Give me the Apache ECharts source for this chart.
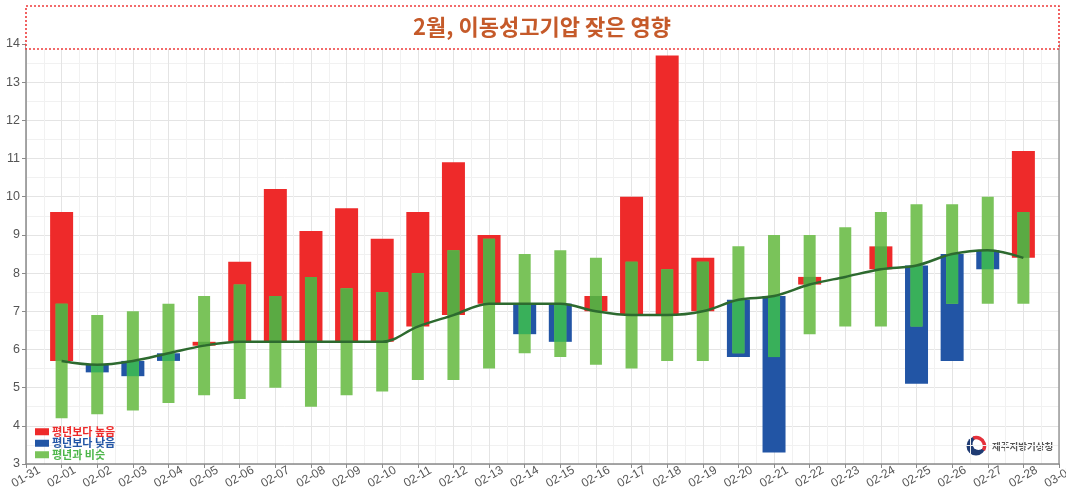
<!DOCTYPE html>
<html><head><meta charset="utf-8">
<script src="https://cdn.jsdelivr.net/npm/echarts@6/dist/echarts.min.js"></script>
<style>html,body{margin:0;padding:0;background:#fff}#c{width:1066px;height:489px}</style>
</head><body><div id="c"></div>
<script>
// x tick labels (01-31 .. 03-01)
const tickLabels = ['01-31','02-01','02-02','02-03','02-04','02-05','02-06','02-07','02-08','02-09','02-10',
  '02-11','02-12','02-13','02-14','02-15','02-16','02-17','02-18','02-19','02-20',
  '02-21','02-22','02-23','02-24','02-25','02-26','02-27','02-28','03-01'];
// days with data: 02-01 .. 02-28
const days = tickLabels.slice(1, 29);
// observed daily mean temperature (°C)
const observed   = [9.6,5.4,5.3,5.7,6.2,8.3,10.2,9.1,9.7,8.9,9.6,10.9,9.0,6.4,6.2,7.4,10.0,13.7,8.4,5.8,3.3,7.9,7.9,8.7,5.1,5.7,8.1,11.2];
// normal (climatological) mean
const normalMean = [5.7,5.6,5.7,5.9,6.1,6.2,6.2,6.2,6.2,6.2,6.6,6.9,7.2,7.2,7.2,7.0,6.9,6.9,7.0,7.3,7.4,7.7,7.9,8.1,8.2,8.5,8.6,8.4];
// normal range (similar to normal)
const normalLow  = [4.2,4.3,4.4,4.6,4.8,4.7,5.0,4.5,4.8,4.9,5.2,5.2,5.5,5.9,5.8,5.6,5.5,5.7,5.7,5.9,5.8,6.4,6.6,6.6,6.6,7.2,7.2,7.2];
const normalHigh = [7.2,6.9,7.0,7.2,7.4,7.7,7.4,7.9,7.6,7.5,8.0,8.6,8.9,8.5,8.6,8.4,8.3,8.1,8.3,8.7,9.0,9.0,9.2,9.6,9.8,9.8,10.0,9.6];
const yTicks = [3,4,5,6,7,8,9,10,11,12,13,14];

const RED = '#ee2a2a', BLUE = '#2255a5', GREEN = '#7ac35a', GREEN_ON_RED = '#5aaa43', GREEN_ON_BLUE = '#39b05a', LINE = '#2d6a2f';
const WIDE = 23, NARROW = 12;
const KR = "'Noto Sans CJK KR', sans-serif";

function diffBar(color, up) {
  return function (params, api) {
    const x = api.value(0), m = api.value(1), o = api.value(2);
    if (up ? !(o > m) : !(o < m)) return null;
    const lo = Math.min(m, o), hi = Math.max(m, o);
    const p1 = api.coord([x, hi]), p2 = api.coord([x, lo]);
    return { type: 'rect', shape: { x: p1[0] - WIDE / 2, y: p1[1], width: WIDE, height: p2[1] - p1[1] },
             style: { fill: color } };
  };
}

const chart = echarts.init(document.getElementById('c'));
chart.setOption({
  animation: false,
  grid: { left: 26, right: 7, top: 44, bottom: 25, containLabel: false, outerBoundsMode: 'none' },
  legend: {
    orient: 'vertical', left: 35, top: 426, itemGap: 0, itemWidth: 14, itemHeight: 7, icon: 'rect',
    padding: 0,
    textStyle: { fontFamily: KR, fontWeight: 'bold', fontSize: 11, lineHeight: 11.5, padding: [0, 0, 0, -2] },
    data: [
      { name: '평년보다 높음', textStyle: { color: RED } },
      { name: '평년보다 낮음', textStyle: { color: BLUE } },
      { name: '평년과 비슷', textStyle: { color: '#4db64a' } }
    ]
  },
  xAxis: {
    type: 'value', min: 0, max: tickLabels.length - 1, interval: 1,
    axisLine: { show: true, lineStyle: { color: '#8a8a8a', width: 1.5 } },
    axisTick: { show: true, length: 4, lineStyle: { color: '#8a8a8a' } },
    axisLabel: { formatter: v => tickLabels[v] || '', rotate: 30, align: 'center', verticalAlign: 'middle',
      margin: 13, color: '#555', fontSize: 12, fontFamily: "'Liberation Sans', Arial, sans-serif", showMaxLabel: true, showMinLabel: true },
    splitLine: { show: true, lineStyle: { color: '#e4e4e4', width: 1 } },
    minorTick: { show: false, splitNumber: 2 },
    minorSplitLine: { show: true, lineStyle: { color: '#f1f1f1', width: 1 } }
  },
  yAxis: [{
    type: 'value', min: yTicks[0], max: yTicks[yTicks.length - 1], interval: 1,
    axisLine: { show: true, lineStyle: { color: '#8a8a8a', width: 1.5 } },
    axisTick: { show: true, length: 4, lineStyle: { color: '#8a8a8a' } },
    axisLabel: { color: '#555', fontSize: 12.5, margin: 6, fontFamily: "'Liberation Sans', Arial, sans-serif" },
    splitLine: { show: true, lineStyle: { color: '#e4e4e4', width: 1 } },
    minorTick: { show: false, splitNumber: 2 },
    minorSplitLine: { show: true, lineStyle: { color: '#f1f1f1', width: 1 } }
  }, {
    type: 'value', position: 'right', min: yTicks[0], max: yTicks[yTicks.length - 1], interval: 1,
    axisLine: { show: true, lineStyle: { color: '#9a9a9a', width: 1.5 } },
    axisTick: { show: false }, axisLabel: { show: false }, splitLine: { show: false }
  }],
  series: [
    { name: '평년보다 높음', type: 'custom', itemStyle: { color: RED }, encode: { x: 0, y: [1, 2] }, z: 2,
      data: days.map((d, i) => [i + 1, normalMean[i], observed[i]]), renderItem: diffBar(RED, true) },
    { name: '평년보다 낮음', type: 'custom', itemStyle: { color: BLUE }, encode: { x: 0, y: [1, 2] }, z: 2,
      data: days.map((d, i) => [i + 1, normalMean[i], observed[i]]), renderItem: diffBar(BLUE, false) },
    { name: '평년과 비슷', type: 'custom', itemStyle: { color: GREEN }, encode: { x: 0, y: [1, 2] }, z: 3,
      data: days.map((d, i) => [i + 1, normalLow[i], normalHigh[i], normalMean[i], observed[i]]),
      renderItem: function (params, api) {
        const x = api.value(0), lo = api.value(1), hi = api.value(2), m = api.value(3), o = api.value(4);
        const p1 = api.coord([x, hi]), p2 = api.coord([x, lo]);
        const children = [{ type: 'rect', shape: { x: p1[0] - NARROW / 2, y: p1[1], width: NARROW, height: p2[1] - p1[1] },
          style: { fill: GREEN } }];
        const dlo = Math.max(lo, Math.min(m, o)), dhi = Math.min(hi, Math.max(m, o));
        if (dhi > dlo && o !== m) {
          const q1 = api.coord([x, dhi]), q2 = api.coord([x, dlo]);
          children.push({ type: 'rect', shape: { x: q1[0] - NARROW / 2, y: q1[1], width: NARROW, height: q2[1] - q1[1] },
            style: { fill: o > m ? GREEN_ON_RED : GREEN_ON_BLUE } });
        }
        return { type: 'group', children };
      } },
    { name: '평년', type: 'line', smooth: 0.35, showSymbol: false, z: 5,
      lineStyle: { color: LINE, width: 2.5 }, itemStyle: { color: LINE },
      data: days.map((d, i) => [i + 1, normalMean[i]]) }
  ],
  graphic: [
    { type: 'rect', z: 100, shape: { x: 26, y: 6, width: 1033, height: 43 },
      style: { fill: '#fff', stroke: '#ee3b3b', lineWidth: 1.6, lineDash: [2, 2] } },
    { type: 'text', z: 101, x: 542, y: 27,
      style: { text: '2월, 이동성고기압 잦은 영향', fill: '#c55a2a', font: "bold 22px 'Noto Sans CJK KR'",
        textAlign: 'center', textVerticalAlign: 'middle' } },
    { type: 'group', z: 100, children: [
      { type: 'circle', shape: { cx: 976, cy: 446, r: 9.5 }, style: { fill: '#1f3b73' } },
      { type: 'circle', shape: { cx: 978.5, cy: 444, r: 6 }, style: { fill: '#fff' } },
      { type: 'arc', shape: { cx: 976, cy: 446, r: 8.5, startAngle: -1.9, endAngle: 0.5, clockwise: true },
        style: { stroke: '#e5303a', lineWidth: 3.5, fill: null } },
      { type: 'text', x: 992, y: 446,
        style: { text: '제주지방기상청', fill: '#555', font: "bold 9.5px 'Noto Sans CJK KR'", textVerticalAlign: 'middle' } }
    ] }
  ]
});
</script></body></html>
